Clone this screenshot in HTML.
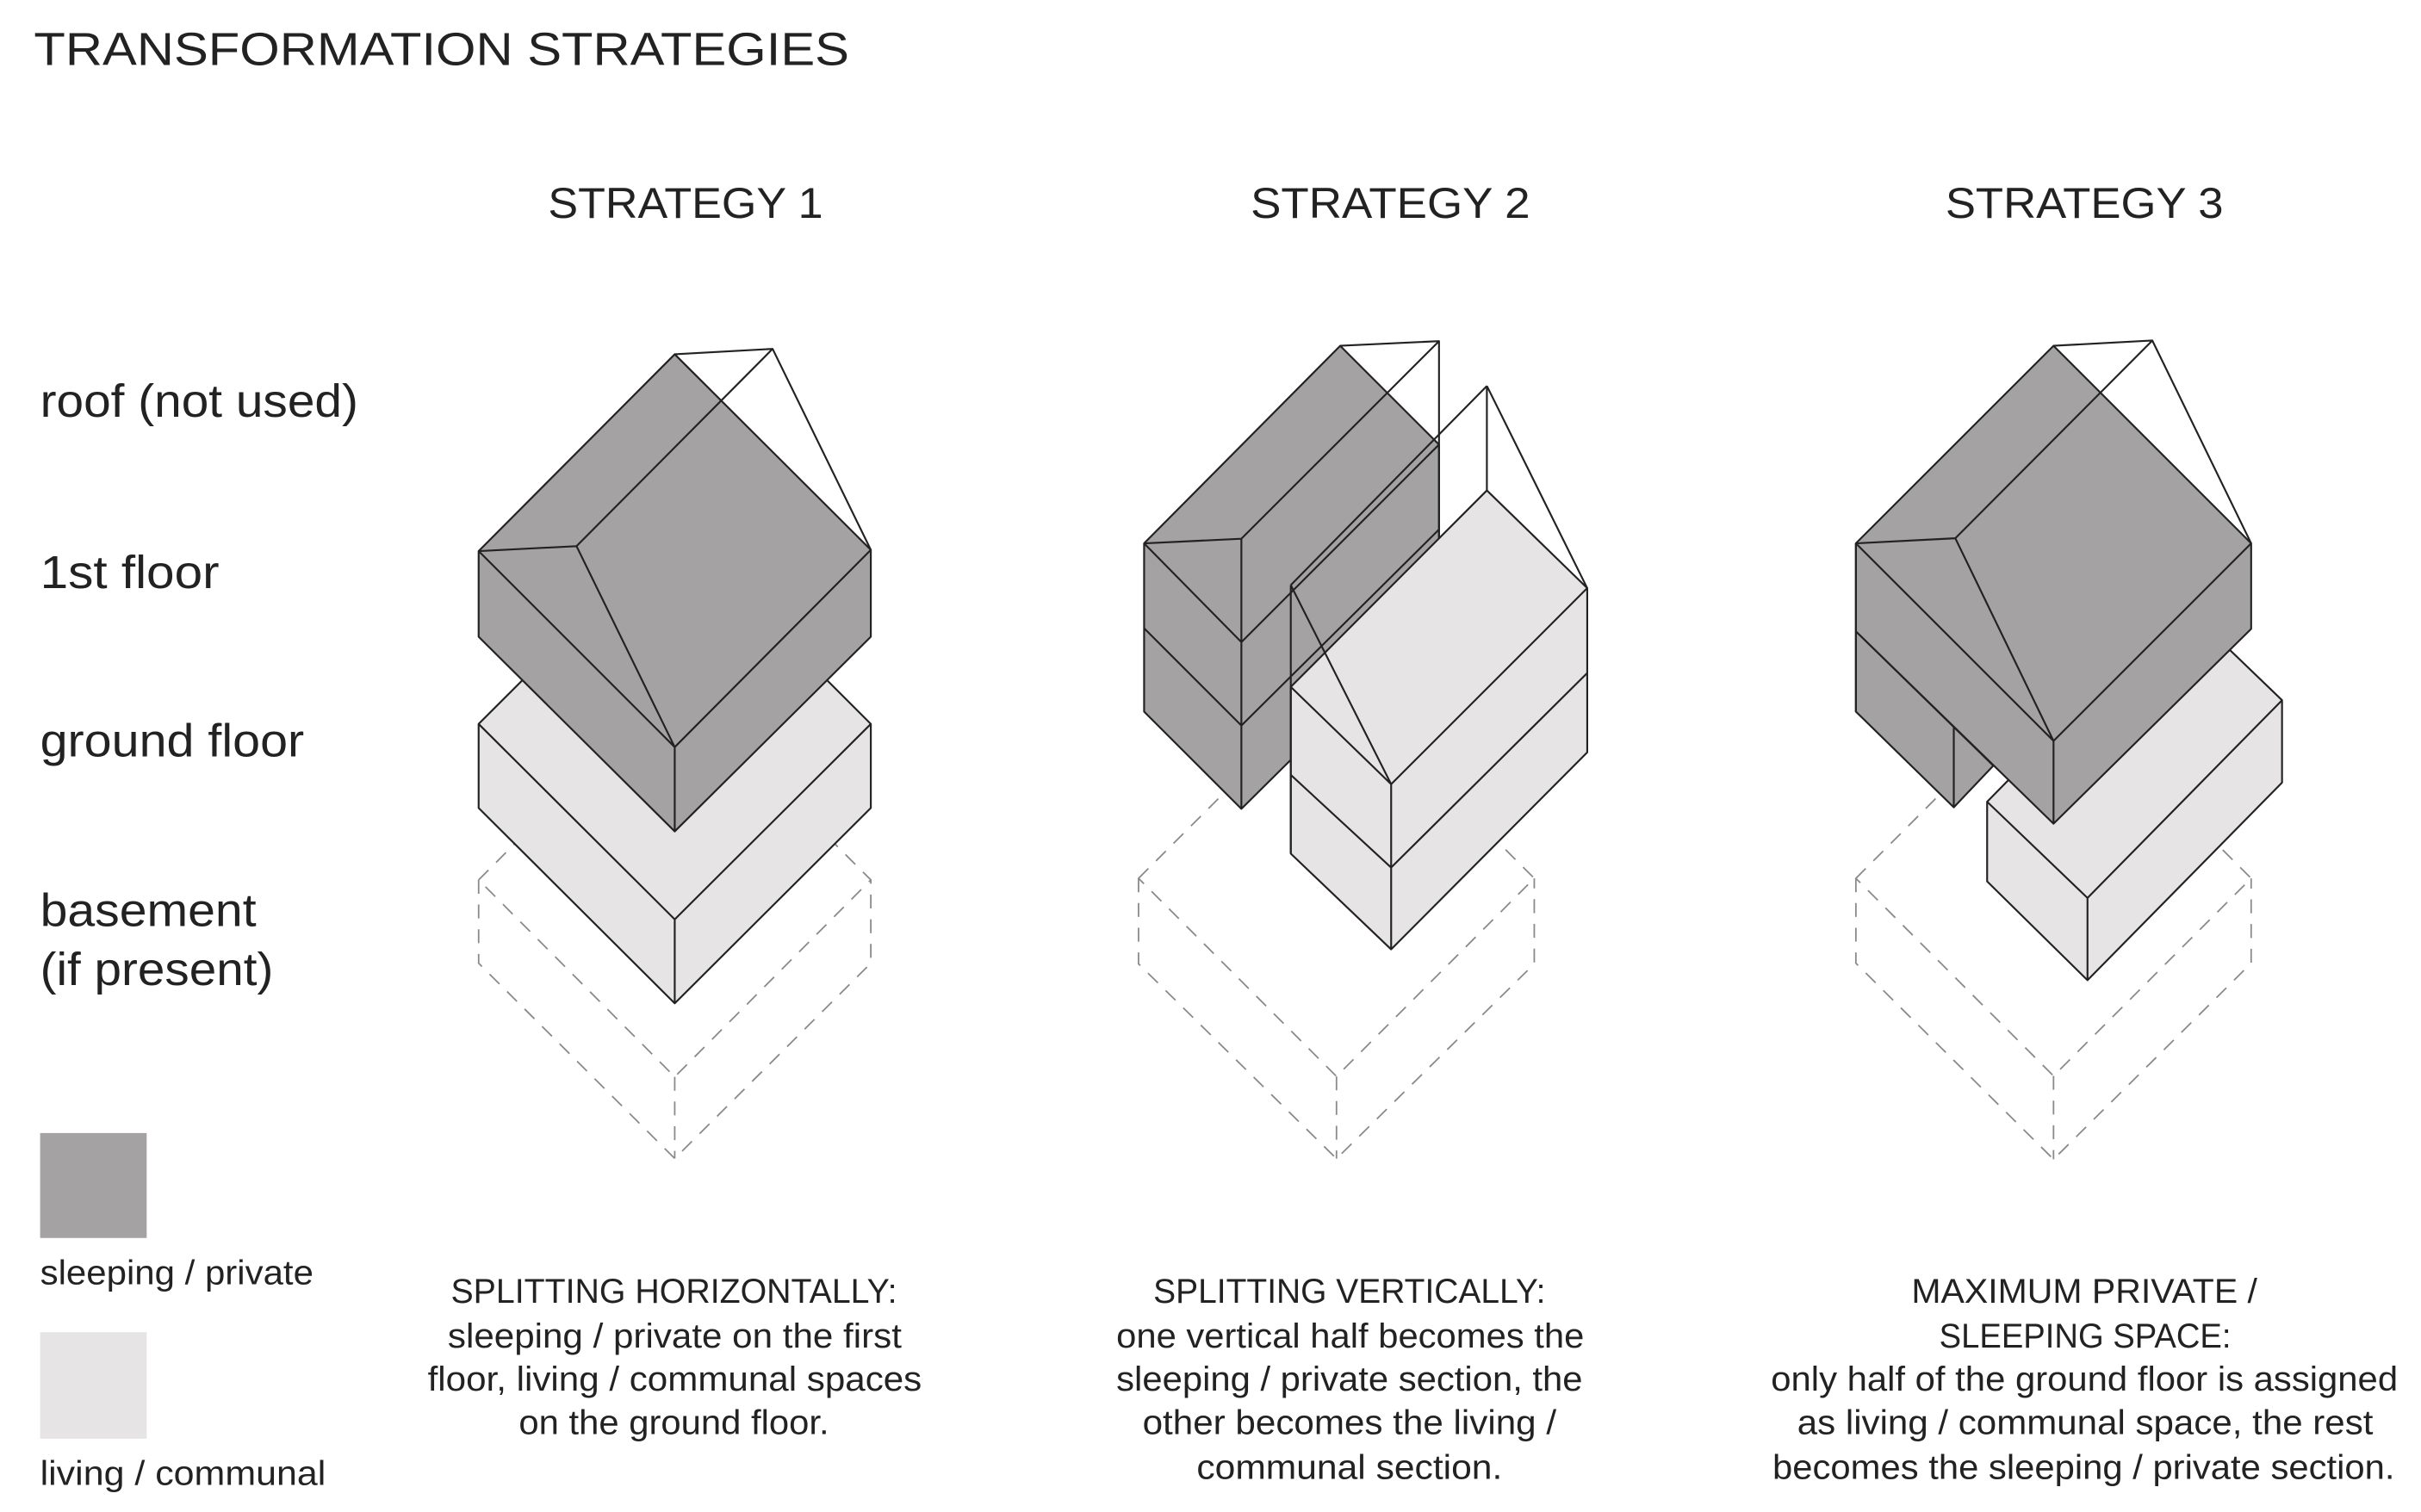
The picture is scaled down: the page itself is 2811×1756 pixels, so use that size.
<!DOCTYPE html>
<html><head><meta charset="utf-8"><style>
html,body{margin:0;padding:0;background:#fff;}
svg{display:block;}
text{font-family:"Liberation Sans",sans-serif;fill:#222;}
</style></head><body>
<svg width="2811" height="1756" viewBox="0 0 1568 979.5" xmlns="http://www.w3.org/2000/svg">
<rect width="1568" height="980" fill="#fff"/>
<g font-size="30">
<text x="22" y="42" textLength="528" lengthAdjust="spacingAndGlyphs">TRANSFORMATION STRATEGIES</text>
<text x="355" y="141" font-size="28" textLength="178" lengthAdjust="spacingAndGlyphs">STRATEGY 1</text>
<text x="810" y="141" font-size="28" textLength="181" lengthAdjust="spacingAndGlyphs">STRATEGY 2</text>
<text x="1260" y="141" font-size="28" textLength="180" lengthAdjust="spacingAndGlyphs">STRATEGY 3</text>
<text x="26" y="270" textLength="206" lengthAdjust="spacingAndGlyphs">roof (not used)</text>
<text x="26" y="381" textLength="116" lengthAdjust="spacingAndGlyphs">1st floor</text>
<text x="26" y="490" textLength="171" lengthAdjust="spacingAndGlyphs">ground floor</text>
<text x="26" y="600" textLength="140" lengthAdjust="spacingAndGlyphs">basement</text>
<text x="26" y="638" textLength="151" lengthAdjust="spacingAndGlyphs">(if present)</text>
</g>
<rect x="26" y="734" width="69" height="68" fill="#a4a2a2"/>
<rect x="26" y="863" width="69" height="69" fill="#e7e4e5"/>
<g font-size="22">
<text x="26" y="832" textLength="177" lengthAdjust="spacingAndGlyphs">sleeping / private</text>
<text x="26" y="962" textLength="185" lengthAdjust="spacingAndGlyphs">living / communal</text>
<text x="292" y="844" textLength="289" lengthAdjust="spacingAndGlyphs">SPLITTING HORIZONTALLY:</text>
<text x="290" y="873" textLength="294" lengthAdjust="spacingAndGlyphs">sleeping / private on the first</text>
<text x="277" y="901" textLength="320" lengthAdjust="spacingAndGlyphs">floor, living / communal spaces</text>
<text x="336" y="929" textLength="201" lengthAdjust="spacingAndGlyphs">on the ground floor.</text>
<text x="747" y="844" textLength="254" lengthAdjust="spacingAndGlyphs">SPLITTING VERTICALLY:</text>
<text x="723" y="873" textLength="303" lengthAdjust="spacingAndGlyphs">one vertical half becomes the</text>
<text x="723" y="901" textLength="302" lengthAdjust="spacingAndGlyphs">sleeping / private section, the</text>
<text x="740" y="929" textLength="268" lengthAdjust="spacingAndGlyphs">other becomes the living /</text>
<text x="775" y="958" textLength="198" lengthAdjust="spacingAndGlyphs">communal section.</text>
<text x="1238" y="844" textLength="224" lengthAdjust="spacingAndGlyphs">MAXIMUM PRIVATE /</text>
<text x="1256" y="873" textLength="189" lengthAdjust="spacingAndGlyphs">SLEEPING SPACE:</text>
<text x="1147" y="901" textLength="406" lengthAdjust="spacingAndGlyphs">only half of the ground floor is assigned</text>
<text x="1164" y="929" textLength="373" lengthAdjust="spacingAndGlyphs">as living / communal space, the rest</text>
<text x="1148" y="958" textLength="403" lengthAdjust="spacingAndGlyphs">becomes the sleeping / private section.</text>
</g>

<!-- dashed basements -->
<g fill="none" stroke="#8a8a8a" stroke-width="1" stroke-dasharray="9 7">
<path d="M310 570 L437 443 L564 570 L437 697.6 Z M310 570 V624 L437 750.5 L564 624 V570 M437 697.6 V750.5"/>
<path d="M737.4 569 L865.6 441 L993.7 569 L865.6 697.3 Z M737.4 569 V624.4 L865.6 750.6 L993.7 624.4 V569 M865.6 697.3 V750.6"/>
<path d="M1202 569 L1330 441 L1458 569 L1330 697 Z M1202 569 V624 L1330 751 L1458 624 V569 M1330 697 V751"/>
</g>

<g stroke="#222" stroke-width="1.2" stroke-linejoin="round" fill="none">
<!-- Strategy 1 -->
<path d="M310 469 L437 342 L564 469 V523.4 L437 650 L310 523.4 Z" fill="#e7e4e5"/>
<path d="M310 469 L437 595.6 L564 469 M437 595.6 V650"/>
<path d="M310 357 L437 229.5 L564 356.2 V412.5 L437 538.6 L310 412.5 Z" fill="#a4a2a2"/>
<path d="M310 357 L437 484 L564 356.2 M437 484 V538.6 M310 357 L373.4 353.8 L437 484 M373.4 353.8 L500.4 226 M437 229.5 L500.4 226 L564 356.2"/>

<!-- Strategy 2 dark -->
<path d="M741 352 L868 224 L932 288 V397 L804 524 L741 461 Z" fill="#a4a2a2"/>
<path d="M741 352 L804 416 L932 288 M804 416 V524 M741 407 L804 470 L932 343 M741 352 L804 349 L804 416 M804 349 L932 221 M868 224 L932 221 V397"/>
<!-- Strategy 2 light -->
<path d="M836 445 L963 317.7 L1028 381 V487.4 L901 615 L836 553 Z" fill="#e7e4e5"/>
<path d="M836 445 L901 508 L1028 381 M901 508 V615 M836 502 L901 562 L1028 436 M836 379 V553 M836 379 L901 508 M836 379 L963 250 M963 250 V317.7 M963 250 L1028 381"/>

<!-- Strategy 3 light -->
<path d="M1287 519.4 L1413 391 L1478 453.6 V507 L1352 635 L1287 571 Z" fill="#e7e4e5"/>
<path d="M1287 519.4 L1352 581.7 L1478 453.6 M1352 581.7 V635"/>
<!-- Strategy 3 dark -->
<path d="M1202 409 L1291 496 L1265.4 523 L1202 461 Z" fill="#a4a2a2"/>
<path d="M1265.4 470 V523"/>
<path d="M1202 352 L1330 224 L1458 352 V407.4 L1330 533.6 L1202 409 Z" fill="#a4a2a2"/>
<path d="M1202 352 L1330 480 L1458 352 M1330 480 V533.6 M1202 352 L1266.4 348.7 L1330 480 M1266.4 348.7 L1394 220.6 M1330 224 L1394 220.6 L1458 352 M1202 352 V461"/>
</g>
</svg>
</body></html>
